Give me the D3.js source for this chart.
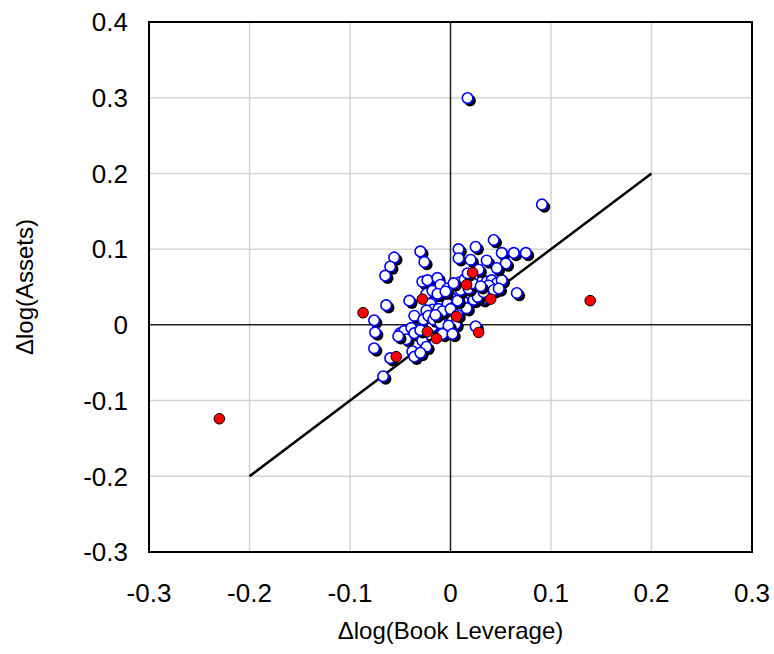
<!DOCTYPE html>
<html>
<head>
<meta charset="utf-8">
<script src="https://cdn.jsdelivr.net/npm/d3@7"></script>
<style>
  body { margin: 0; background: #fff; }
  text { font-family: "Liberation Sans", Arial, sans-serif; fill: #000; }
</style>
</head>
<body>
<svg id="chart" width="774" height="654"></svg>
<script>
// tick values on both axes
var xTicks = [-0.3, -0.2, -0.1, 0, 0.1, 0.2, 0.3];
var yTicks = [-0.3, -0.2, -0.1, 0, 0.1, 0.2, 0.3, 0.4];

// blue (white filled) points: change in log book leverage / change in log assets
var blueX = [-0.056, -0.060, -0.065, -0.030, -0.026, -0.064, -0.041,
  -0.076, -0.075, -0.076, -0.060, -0.067, -0.050, -0.046, -0.044, -0.052, -0.039, -0.036,
  -0.036, -0.028, -0.024, -0.038, -0.036, -0.030, -0.027, -0.030,
  -0.028, -0.023, -0.013, -0.024, -0.018, -0.010, -0.003, 0.003, 0.009, 0.014, 0.019,
  0.027, 0.032, 0.036, 0.041, 0.046, 0.051, 0.038, 0.027, 0.022, 0.017, 0.012, 0.007,
  0.000, -0.006, -0.013, -0.020, -0.010, -0.003, 0.003, 0.009, 0.016, 0.023, 0.032,
  -0.018, -0.024, -0.012, -0.013, -0.007, -0.003, 0.002, 0.005, -0.007, -0.018, 0.007,
  -0.013, -0.022, -0.017, -0.010, -0.002, -0.008, 0.002, 0.025, 0.027, 0.033, 0.043, 0.048,
  -0.005, 0.010, 0.018, 0.022, 0.003, -0.008, 0.000, 0.007, -0.015, 0.030,
  0.008, 0.008, 0.020, 0.025, 0.043, 0.051, 0.063, 0.075, 0.055, 0.036, 0.046, 0.066,
  0.017, 0.028, 0.017, 0.091];
var blueY = [0.089, 0.077, 0.065, 0.097, 0.083, 0.026, 0.032,
  0.006, -0.010, -0.031, -0.044, -0.068, -0.011, -0.008, -0.019, -0.015, -0.004, 0.012,
  -0.011, -0.021, -0.029, -0.035, -0.042, -0.037, 0.007, -0.007,
  0.057, 0.059, 0.062, 0.041, 0.045, 0.053, 0.048, 0.046, 0.056, 0.060, 0.066,
  0.063, 0.059, 0.057, 0.059, 0.055, 0.059, 0.052, 0.048, 0.041, 0.035, 0.032, 0.041,
  0.037, 0.037, 0.031, 0.028, 0.025, 0.028, 0.023, 0.023, 0.022, 0.033, 0.034,
  0.020, 0.019, 0.021, 0.007, 0.010, 0.015, 0.007, 0.001, -0.002, -0.002, 0.032,
  0.041, 0.012, 0.007, 0.002, -0.001, -0.012, -0.012, -0.002, 0.037, 0.043, 0.046, 0.048,
  0.044, 0.046, 0.048, 0.055, 0.055, 0.018, 0.021, 0.013, 0.013, 0.051,
  0.100, 0.088, 0.086, 0.103, 0.112, 0.095, 0.095, 0.095, 0.081, 0.085, 0.075, 0.042,
  0.068, 0.073, 0.2995, 0.159];

// red points
var redX = [-0.087, -0.028, 0.022, 0.016, 0.040, 0.006, -0.023, -0.014, 0.028, -0.054, -0.230, 0.139];
var redY = [0.016, 0.034, 0.069, 0.053, 0.034, 0.011, -0.009, -0.018, -0.010, -0.042, -0.124, 0.032];

// 45 degree reference line
var lineX = [-0.2, 0.2];
var lineY = [-0.2, 0.2];

var svg = d3.select("#chart");
var pLeft = 149, pRight = 752, pTop = 22, pBottom = 552;

var x = d3.scaleLinear().domain([-0.3, 0.3]).range([pLeft, pRight]);
var y = d3.scaleLinear().domain([-0.3, 0.4]).range([pBottom, pTop]);

// excel style labels: plain hyphen, "0" without decimals
function fmt(v) { return v === 0 ? "0" : v.toFixed(1); }

// grid lines
svg.append("g").selectAll("line").data(xTicks.filter(function (d) { return d !== 0; }))
  .enter().append("line")
  .attr("x1", function (d) { return x(d); }).attr("x2", function (d) { return x(d); })
  .attr("y1", pTop).attr("y2", pBottom)
  .attr("stroke", "#d4d4d4").attr("stroke-width", 1.5);
svg.append("g").selectAll("line").data(yTicks.filter(function (d) { return d !== 0; }))
  .enter().append("line")
  .attr("y1", function (d) { return y(d); }).attr("y2", function (d) { return y(d); })
  .attr("x1", pLeft).attr("x2", pRight)
  .attr("stroke", "#d4d4d4").attr("stroke-width", 1.5);

// zero axes
svg.append("line").attr("x1", x(0)).attr("x2", x(0)).attr("y1", pTop).attr("y2", pBottom)
  .attr("stroke", "#222").attr("stroke-width", 1.5);
svg.append("line").attr("y1", y(0)).attr("y2", y(0)).attr("x1", pLeft).attr("x2", pRight)
  .attr("stroke", "#222").attr("stroke-width", 1.5);

// frame
svg.append("rect").attr("x", pLeft).attr("y", pTop)
  .attr("width", pRight - pLeft).attr("height", pBottom - pTop)
  .attr("fill", "none").attr("stroke", "#000").attr("stroke-width", 2);

// tick labels
svg.append("g").selectAll("text").data(xTicks).enter().append("text")
  .attr("x", function (d) { return x(d); }).attr("y", 602)
  .attr("text-anchor", "middle").style("font-size", "26px")
  .text(fmt);
svg.append("g").selectAll("text").data(yTicks).enter().append("text")
  .attr("x", 128).attr("y", function (d) { return y(d) + 9.3; })
  .attr("text-anchor", "end").style("font-size", "26px")
  .text(fmt);

// axis titles
svg.append("text").attr("x", (pLeft + pRight) / 2).attr("y", 639)
  .attr("text-anchor", "middle").style("font-size", "24px")
  .text("Δlog(Book Leverage)");
svg.append("text").attr("transform", "translate(33," + ((pTop + pBottom) / 2) + ") rotate(-90)")
  .attr("text-anchor", "middle").style("font-size", "24px")
  .text("Δlog(Assets)");

// reference line
svg.append("line")
  .attr("x1", x(lineX[0])).attr("y1", y(lineY[0]))
  .attr("x2", x(lineX[1])).attr("y2", y(lineY[1]))
  .attr("stroke", "#000").attr("stroke-width", 2.5);

// blue markers with drop shadow
var blue = blueX.map(function (v, i) { return [v, blueY[i]]; });
var g = svg.append("g").selectAll("g").data(blue).enter().append("g");
g.append("circle")
  .attr("cx", function (d) { return x(d[0]) + 2.5; })
  .attr("cy", function (d) { return y(d[1]) + 2.5; })
  .attr("r", 5.8).attr("fill", "#000");
g.append("circle")
  .attr("cx", function (d) { return x(d[0]); })
  .attr("cy", function (d) { return y(d[1]); })
  .attr("r", 5.3).attr("fill", "#fff").attr("stroke", "#0000ff").attr("stroke-width", 1.6);

// red markers
var red = redX.map(function (v, i) { return [v, redY[i]]; });
svg.append("g").selectAll("circle").data(red).enter().append("circle")
  .attr("cx", function (d) { return x(d[0]); })
  .attr("cy", function (d) { return y(d[1]); })
  .attr("r", 5.3).attr("fill", "#ff0000").attr("stroke", "#000").attr("stroke-width", 1);
</script>
</body>
</html>
